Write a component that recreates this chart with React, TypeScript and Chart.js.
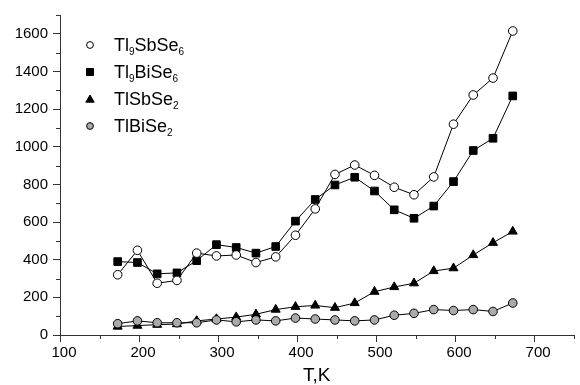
import { useEffect, useRef } from "react";
import { Chart, registerables } from "chart.js";

Chart.register(...registerables);

// ---- data ----
const temperatures = [173, 198, 223, 248, 273, 298, 323, 348, 373, 398, 423, 448, 473, 498, 523, 548, 573, 598, 623, 648, 673];
const tl9SbSe6 = [320, 450, 275, 290, 435, 420, 425, 385, 415, 530, 670, 853, 903, 848, 785, 745, 840, 1120, 1275, 1365, 1615];
const tl9BiSe6 = [390, 385, 325, 330, 395, 480, 465, 435, 470, 605, 720, 797, 838, 765, 665, 620, 685, 815, 980, 1045, 1270];
const tlSbSe2 = [45, 50, 55, 58, 75, 85, 95, 110, 135, 150, 157, 145, 170, 230, 255, 275, 340, 355, 425, 490, 550];
const tlBiSe2 = [60, 75, 65, 65, 65, 80, 70, 80, 75, 90, 85, 80, 75, 80, 105, 115, 135, 130, 135, 125, 170];
const seriesNames = ["Tl₉SbSe₆", "Tl₉BiSe₆", "TlSbSe₂", "TlBiSe₂"];
const xTickValues = [100, 200, 300, 400, 500, 600, 700];
const xMinorTicks = [150, 250, 350, 450, 550, 650, 750];
const yTickValues = [0, 200, 400, 600, 800, 1000, 1200, 1400, 1600];
const yMinorTicks = [100, 300, 500, 700, 900, 1100, 1300, 1500, 1700];
const xTitle = "T,K";

const FONT = "'Liberation Sans', Arial, 'DejaVu Sans', sans-serif";
const AXIS = "#333";

const subMap: Record<string, string> = {
  "₀": "0", "₁": "1", "₂": "2", "₃": "3", "₄": "4", "₅": "5", "₆": "6", "₇": "7", "₈": "8", "₉": "9",
};

function drawMarker(ctx: CanvasRenderingContext2D, style: string, x: number, y: number, fill: string) {
  ctx.beginPath();
  if (style === "circle") {
    ctx.arc(x, y, 3.4, 0, Math.PI * 2);
  } else if (style === "rect") {
    ctx.rect(x - 3.5, y - 3.5, 7, 7);
  } else {
    ctx.moveTo(x, y - 4);
    ctx.lineTo(x + 4.2, y + 3.2);
    ctx.lineTo(x - 4.2, y + 3.2);
    ctx.closePath();
  }
  ctx.fillStyle = fill;
  ctx.fill();
  ctx.lineWidth = 1;
  ctx.strokeStyle = "#000";
  ctx.stroke();
}

const legendPlugin = {
  id: "subscriptLegend",
  afterDraw(chart: any) {
    const ctx: CanvasRenderingContext2D = chart.ctx;
    ctx.save();
    chart.data.datasets.forEach((ds: any, i: number) => {
      const cy = 45 + i * 27;
      drawMarker(ctx, ds.pointStyle, 90, cy, ds.pointBackgroundColor);
      let x = 114;
      const base = cy + 6;
      ctx.fillStyle = "#000";
      ctx.textBaseline = "alphabetic";
      ctx.textAlign = "left";
      for (const ch of Array.from(ds.label as string)) {
        if (subMap[ch]) {
          ctx.font = `10px ${FONT}`;
          ctx.fillText(subMap[ch], x, base + 4);
          x += ctx.measureText(subMap[ch]).width;
        } else {
          ctx.font = `18px ${FONT}`;
          ctx.fillText(ch, x, base);
          x += ctx.measureText(ch).width;
        }
      }
    });
    ctx.restore();
  },
};

const minorTicksPlugin = {
  id: "minorTicks",
  afterDraw(chart: any) {
    const { ctx, scales } = chart;
    const x = scales.x;
    const y = scales.y;
    ctx.save();
    ctx.strokeStyle = AXIS;
    ctx.lineWidth = 1;
    ctx.beginPath();
    xMinorTicks.forEach((v) => {
      const px = Math.round(x.getPixelForValue(v)) + 0.5;
      ctx.moveTo(px, x.top);
      ctx.lineTo(px, x.top + 4);
    });
    yMinorTicks.forEach((v) => {
      const py = Math.round(y.getPixelForValue(v)) + 0.5;
      ctx.moveTo(y.right - 4, py);
      ctx.lineTo(y.right, py);
    });
    ctx.stroke();
    ctx.restore();
  },
};

function makeDataset(label: string, values: number[], style: string, fill: string, radius: number, order: number) {
  return {
    label,
    data: temperatures.map((t, i) => ({ x: t, y: values[i] })),
    borderColor: "#000",
    borderWidth: 1,
    pointStyle: style,
    pointRadius: radius,
    pointBackgroundColor: fill,
    pointBorderColor: "#000",
    pointBorderWidth: 1,
    tension: 0,
    fill: false,
    order,
  };
}

export default function App() {
  const canvasRef = useRef<HTMLCanvasElement | null>(null);

  useEffect(() => {
    if (!canvasRef.current) return;
    const chart = new Chart(canvasRef.current, {
      type: "line",
      data: {
        datasets: [
          makeDataset(seriesNames[0], tl9SbSe6, "circle", "#ffffff", 4.3, 0),
          makeDataset(seriesNames[1], tl9BiSe6, "rect", "#000000", 5.4, 1),
          makeDataset(seriesNames[2], tlSbSe2, "triangle", "#000000", 5.2, 3),
          makeDataset(seriesNames[3], tlBiSe2, "circle", "#aaaaaa", 4.3, 2),
        ] as any,
      },
      options: {
        animation: false,
        responsive: false,
        events: [],
        layout: { padding: { top: 15, right: 0, left: 0, bottom: 0 } },
        plugins: {
          legend: { display: false },
          tooltip: { enabled: false },
        },
        scales: {
          x: {
            type: "linear",
            min: 100,
            max: 750,
            afterBuildTicks: (scale: any) => {
              scale.ticks = xTickValues.map((v) => ({ value: v }));
            },
            afterFit: (scale: any) => {
              scale.height = 50;
            },
            grid: {
              drawOnChartArea: false,
              drawTicks: true,
              tickLength: 7,
              color: AXIS,
            },
            border: { display: true, color: AXIS, width: 1 },
            ticks: {
              color: "#000",
              font: { family: FONT, size: 15 },
              padding: 2,
              labelOffset: 4,
              maxRotation: 0,
              callback: (v: any) => String(v),
            },
            title: {
              display: true,
              text: xTitle,
              color: "#000",
              font: { family: FONT, size: 19, lineHeight: 1 },
              padding: { top: 0, bottom: 0 },
            },
          },
          y: {
            type: "linear",
            min: 0,
            max: 1700,
            afterBuildTicks: (scale: any) => {
              scale.ticks = yTickValues.map((v) => ({ value: v }));
            },
            afterFit: (scale: any) => {
              scale.width = 60;
            },
            grid: {
              drawOnChartArea: false,
              drawTicks: true,
              tickLength: 7,
              color: AXIS,
            },
            border: { display: true, color: AXIS, width: 1 },
            ticks: {
              color: "#000",
              font: { family: FONT, size: 15 },
              padding: 5,
              callback: (v: any) => String(v),
            },
          },
        },
      } as any,
      plugins: [minorTicksPlugin, legendPlugin],
    });
    return () => chart.destroy();
  }, []);

  return (
    <div style={{ position: "fixed", left: 0, top: 0, width: 580, height: 385, background: "#fff" }}>
      <canvas ref={canvasRef} width={580} height={385} style={{ display: "block" }} />
    </div>
  );
}
